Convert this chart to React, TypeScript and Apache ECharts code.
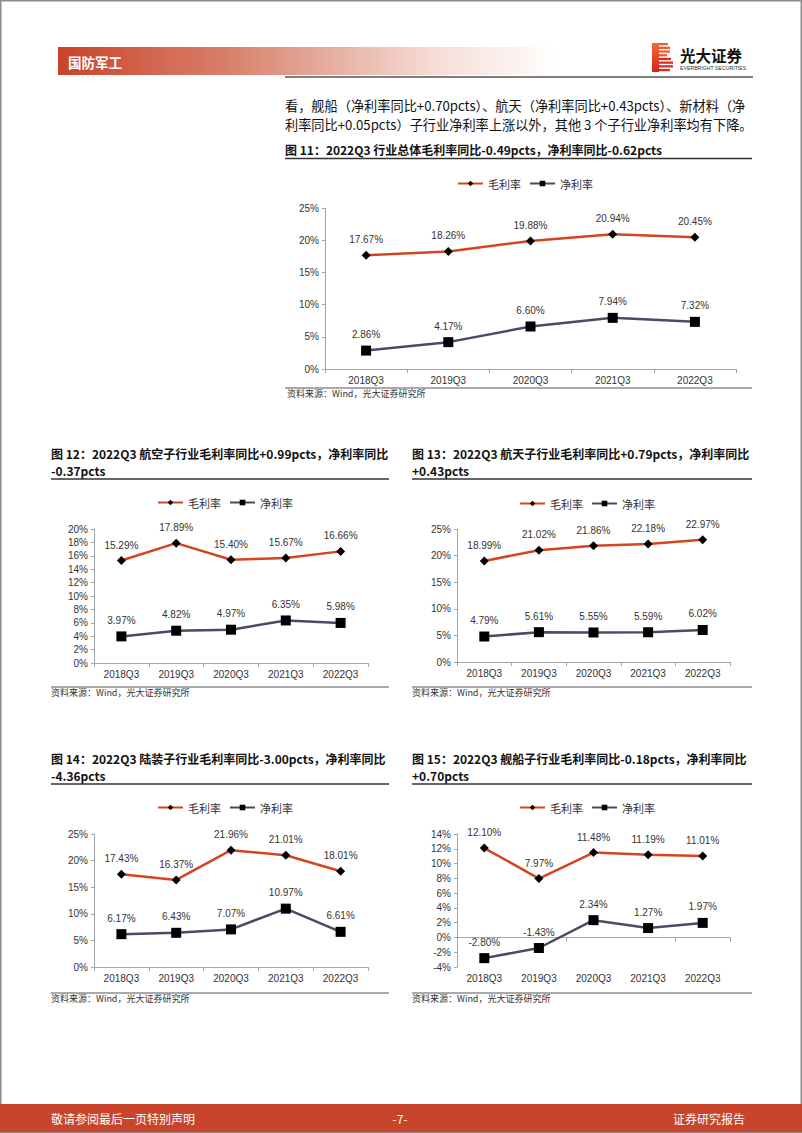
import React, { useEffect, useRef } from 'react';
import * as echarts from 'echarts';

// ---------- data ----------
const categories = ['2018Q3', '2019Q3', '2020Q3', '2021Q3', '2022Q3'];
const seriesNames = ['毛利率', '净利率'];

const fig11Gross = [17.67, 18.26, 19.88, 20.94, 20.45];
const fig11Net = [2.86, 4.17, 6.6, 7.94, 7.32];
const fig11YRange = [0, 25, 5];

const fig12Gross = [15.29, 17.89, 15.4, 15.67, 16.66];
const fig12Net = [3.97, 4.82, 4.97, 6.35, 5.98];
const fig12YRange = [0, 20, 2];

const fig13Gross = [18.99, 21.02, 21.86, 22.18, 22.97];
const fig13Net = [4.79, 5.61, 5.55, 5.59, 6.02];
const fig13YRange = [0, 25, 5];

const fig14Gross = [17.43, 16.37, 21.96, 21.01, 18.01];
const fig14Net = [6.17, 6.43, 7.07, 10.97, 6.61];
const fig14YRange = [0, 25, 5];

const fig15Gross = [12.1, 7.97, 11.48, 11.19, 11.01];
const fig15Net = [-2.8, -1.43, 2.34, 1.27, 1.97];
const fig15YRange = [-4, 14, 2];

const headerSection = '国防军工';
const bodyLines = [
  '看，舰船（净利率同比+0.70pcts）、航天（净利率同比+0.43pcts）、新材料（净',
  '利率同比+0.05pcts）子行业净利率上涨以外，其他 3 个子行业净利率均有下降。',
];
const fig11Title = '图 11：2022Q3 行业总体毛利率同比-0.49pcts，净利率同比-0.62pcts';
const fig12Title = ['图 12：2022Q3 航空子行业毛利率同比+0.99pcts，净利率同比', '-0.37pcts'];
const fig13Title = ['图 13：2022Q3 航天子行业毛利率同比+0.79pcts，净利率同比', '+0.43pcts'];
const fig14Title = ['图 14：2022Q3 陆装子行业毛利率同比-3.00pcts，净利率同比', '-4.36pcts'];
const fig15Title = ['图 15：2022Q3 舰船子行业毛利率同比-0.18pcts，净利率同比', '+0.70pcts'];
const sourceText = '资料来源：Wind，光大证券研究所';
const footerTexts = ['敬请参阅最后一页特别声明', '-7-', '证券研究报告'];

// ---------- styles ----------
const CJK = '"Noto Sans CJK SC", "Noto Sans", sans-serif';
const LAT = '"Liberation Sans", Arial, sans-serif';
const RED = '#d4451f';
const NAVY = '#4b4868';
const AXIS = '#a6a6a6';
const TXT = '#333333';

const panels = [
  { gross: fig11Gross, net: fig11Net, yr: fig11YRange, grid: { left: 325, top: 208, width: 411, height: 161 }, legend: { left: 457, top: 178 }, zero: false },
  { gross: fig12Gross, net: fig12Net, yr: fig12YRange, grid: { left: 94, top: 529, width: 274, height: 134 }, legend: { left: 157, top: 497 }, zero: false },
  { gross: fig13Gross, net: fig13Net, yr: fig13YRange, grid: { left: 457, top: 529, width: 273, height: 133 }, legend: { left: 519, top: 498 }, zero: false },
  { gross: fig14Gross, net: fig14Net, yr: fig14YRange, grid: { left: 94, top: 834, width: 274, height: 133 }, legend: { left: 157, top: 802 }, zero: false },
  { gross: fig15Gross, net: fig15Net, yr: fig15YRange, grid: { left: 457, top: 834, width: 273, height: 133 }, legend: { left: 519, top: 802 }, zero: true },
];

function txt(x: number, y: number, text: string, size: number, opts: any = {}) {
  return {
    type: 'text',
    x,
    y,
    silent: true,
    style: {
      text,
      fill: opts.fill || '#111',
      fontSize: size,
      fontFamily: opts.family || CJK,
      fontWeight: opts.weight || 'normal',
      align: opts.align || 'left',
      verticalAlign: 'middle',
    },
  };
}

function hline(x1: number, x2: number, y: number, color: string, w: number) {
  return { type: 'line', silent: true, shape: { x1, y1: y, x2, y2: y }, style: { stroke: color, lineWidth: w } };
}

function buildOption() {
  const grid: any[] = [];
  const xAxis: any[] = [];
  const yAxis: any[] = [];
  const series: any[] = [];
  const legend: any[] = [];
  const labelFmt = (p: any) => Number(p.value).toFixed(2) + '%';

  panels.forEach((p, i) => {
    grid.push({ ...p.grid, containLabel: false });
    xAxis.push({
      type: 'category',
      gridIndex: i,
      data: categories,
      position: 'bottom',
      boundaryGap: true,
      axisLine: { show: !p.zero, onZero: false, lineStyle: { color: AXIS, width: 1 } },
      axisTick: { show: !p.zero, length: 4, lineStyle: { color: AXIS } },
      axisLabel: { margin: 6, fontSize: 10, color: TXT, fontFamily: LAT },
      splitLine: { show: false },
    });
    yAxis.push({
      type: 'value',
      gridIndex: i,
      min: p.yr[0],
      max: p.yr[1],
      interval: p.yr[2],
      axisLine: { show: true, lineStyle: { color: AXIS, width: 1 } },
      axisTick: { show: true, length: 3, lineStyle: { color: AXIS } },
      axisLabel: { margin: 6, fontSize: 10, color: TXT, fontFamily: LAT, formatter: '{value}%' },
      splitLine: { show: false },
    });
    legend.push({
      data: seriesNames,
      left: p.legend.left,
      top: p.legend.top,
      padding: 0,
      itemGap: 8,
      itemWidth: 25,
      itemHeight: 7,
      textStyle: { fontSize: 11, color: TXT, fontFamily: CJK },
      selectedMode: false,
    });
    const common = {
      type: 'line',
      xAxisIndex: i,
      yAxisIndex: i,
      label: { show: true, position: 'top', distance: 6, fontSize: 10, color: TXT, fontFamily: LAT, formatter: labelFmt },
      emphasis: { disabled: true },
      z: 3,
    };
    series.push({
      ...common,
      name: seriesNames[0],
      data: p.gross,
      symbol: 'diamond',
      symbolSize: 9,
      itemStyle: { color: '#000' },
      lineStyle: { color: RED, width: 2.5 },
    });
    series.push({
      ...common,
      name: seriesNames[1],
      data: p.net,
      symbol: 'rect',
      symbolSize: 10,
      itemStyle: { color: '#000' },
      lineStyle: { color: NAVY, width: 2.5 },
    });
  });

  // zero line axis for figure 15
  xAxis.push({
    type: 'category',
    gridIndex: 4,
    data: categories,
    position: 'bottom',
    boundaryGap: true,
    axisLine: { show: true, onZero: true, lineStyle: { color: AXIS, width: 1 } },
    axisTick: { show: true, length: 4, lineStyle: { color: AXIS } },
    axisLabel: { show: false },
    splitLine: { show: false },
  });

  // ---------- graphic ----------
  const g: any[] = [];
  // page border
  g.push({ type: 'rect', silent: true, shape: { x: 0.75, y: 0.75, width: 800.5, height: 1131.5 }, style: { fill: 'none', stroke: '#8c8c8c', lineWidth: 1.5 } });
  // header bar
  g.push({
    type: 'rect',
    silent: true,
    shape: { x: 58, y: 47, width: 500, height: 28 },
    style: {
      fill: {
        type: 'linear', x: 0, y: 0, x2: 1, y2: 0,
        colorStops: [
          { offset: 0, color: '#c9432b' },
          { offset: 0.35, color: '#d9826d' },
          { offset: 0.75, color: '#f5dcd5' },
          { offset: 1, color: '#ffffff' },
        ],
      },
    },
  });
  g.push(txt(68, 62, headerSection, 13.5, { fill: '#ffffff', weight: 'bold' }));
  // logo icon
  const stripeRight = [668, 670, 670, 667, 671, 673, 673, 670];
  const logoFill = {
    type: 'linear', x: 0, y: 0, x2: 0, y2: 1,
    colorStops: [
      { offset: 0, color: '#f26b3a' },
      { offset: 1, color: '#d9201c' },
    ],
  };
  g.push({ type: 'rect', silent: true, shape: { x: 652, y: 43, width: 7, height: 29 }, style: { fill: logoFill } });
  stripeRight.forEach((r, k) => {
    g.push({ type: 'rect', silent: true, shape: { x: 659, y: 43 + k * 3.7, width: r - 659, height: 2.3 }, style: { fill: k < 4 ? '#ee5a33' : '#de2a20' } });
  });
  g.push(txt(680, 55, '光大证券', 15.5, { fill: '#111', weight: 'bold' }));
  g.push(txt(680, 67.5, 'EVERBRIGHT SECURITIES', 5.2, { fill: '#333', family: LAT }));
  g.push(hline(285, 753, 77, '#555', 1.5));
  // body text
  g.push(txt(285, 105, bodyLines[0], 13.2, { fill: '#111' }));
  g.push(txt(285, 124.5, bodyLines[1], 13.2, { fill: '#111' }));
  // figure 11
  g.push(txt(285, 149, fig11Title, 12, { weight: 'bold' }));
  g.push(hline(285, 752, 158.5, '#333', 1.5));
  g.push(hline(285, 752, 388, '#555', 1));
  g.push(txt(287, 393, sourceText, 9, { fill: TXT }));
  // figure 12-15 titles
  const titleSpecs: [string[], number, number, number][] = [
    [fig12Title, 51, 389, 453],
    [fig13Title, 412, 752, 453],
    [fig14Title, 51, 389, 758],
    [fig15Title, 412, 752, 758],
  ];
  titleSpecs.forEach(([t, x1, x2, y]) => {
    g.push(txt(x1, y, t[0], 12, { weight: 'bold' }));
    g.push(txt(x1, y + 17, t[1], 12, { weight: 'bold' }));
    g.push(hline(x1, x2, y + 26, '#333', 1.5));
    const sy = y === 453 ? 687 : 993;
    g.push(hline(x1, x2, sy, '#555', 1));
    g.push(txt(x1, sy + 5.5, sourceText, 9, { fill: TXT }));
  });
  // footer
  g.push({ type: 'rect', silent: true, shape: { x: 0, y: 1104, width: 802, height: 28 }, style: { fill: '#c8442a' } });
  g.push(txt(51, 1118, footerTexts[0], 12, { fill: '#ffffff' }));
  g.push(txt(400, 1118, footerTexts[1], 12, { fill: '#ffffff', align: 'center' }));
  g.push(txt(673, 1118, footerTexts[2], 12, { fill: '#ffffff' }));

  return {
    animation: false,
    backgroundColor: '#ffffff',
    grid,
    xAxis,
    yAxis,
    series,
    legend,
    graphic: g,
  };
}

export default function App() {
  const ref = useRef<HTMLDivElement>(null);
  useEffect(() => {
    if (!ref.current) return;
    const chart = echarts.init(ref.current, undefined, { renderer: 'svg' });
    chart.setOption(buildOption() as any);
    return () => chart.dispose();
  }, []);
  return (
    <div
      ref={ref}
      style={{ position: 'absolute', left: 0, top: 0, width: 802, height: 1133, background: '#fff' }}
    />
  );
}
